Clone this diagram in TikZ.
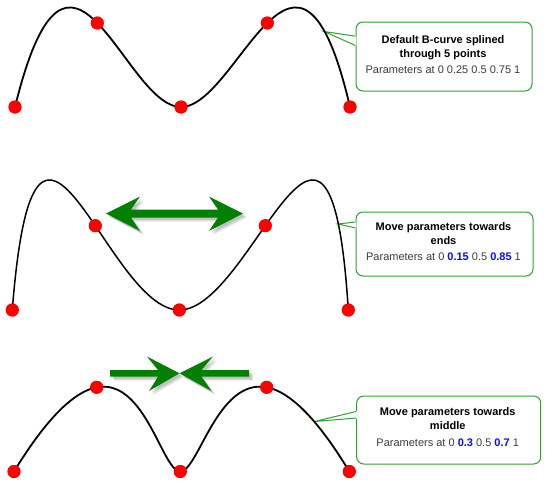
\documentclass[tikz,border=0pt]{standalone}
\usepackage{fontspec}
\setmainfont{Liberation Sans}
\usetikzlibrary{calc}
\definecolor{arrgreen}{RGB}{0,128,0}
\definecolor{boxgreen}{RGB}{50,160,50}
\definecolor{txtgray}{RGB}{60,60,60}
\definecolor{numblue}{RGB}{10,10,255}
\begin{document}
\begin{tikzpicture}[x=1pt,y=-1pt,
  dot/.style={circle, fill=red, inner sep=0pt, minimum size=13pt},
  curveline/.style={line width=1.8pt, black},
  callbox/.style={draw=boxgreen, line width=1pt, rounded corners=7pt, fill=white, inner sep=0pt},
  pointer/.style={draw=boxgreen, line width=1pt},
  calltext/.style={align=center, font=\fontsize{11}{14}\selectfont, text=txtgray},
  arrout/.pic={\path[pic actions] (106,213.5) -- (140,196.5) -- (131,209.5) -- (218,209.5) -- (209,196.5) -- (243,213.5) -- (209,231) -- (218,217.5) -- (131,217.5) -- (140,231) -- cycle;},
  arrin/.pic={\path[pic actions] (110,370) -- (158,370) -- (147,356.5) -- (179.5,373.3) -- (149,391) -- (158,376.7) -- (110,376.7) -- cycle;
              \path[pic actions] (249,370) -- (201.5,370) -- (213,356.5) -- (179.5,373.3) -- (211.5,391) -- (201.5,376.7) -- (249,376.7) -- cycle;}
]
\useasboundingbox (0,0) rectangle (558,493);

% ---------- callouts ----------
\node[callbox, minimum width=176pt, minimum height=69pt] (b1) at (444,56.5) {};
\coordinate (t1) at (324,31.5);
\fill[white] ($(b1.north west)+(0.8,14.2)$) -- (t1) -- ($(b1.north west)+(0.8,24.5)$) -- cycle;
\draw[pointer] ($(b1.north west)+(0,14.7)$) -- (t1) -- ($(b1.north west)+(0,24)$);
\node[calltext] (l1) at (443,54.7) {\textbf{\color{black}Default B-curve splined}\\\textbf{\color{black}through 5 points}\\[2.7pt]Parameters at 0 0.25 0.5 0.75 1};

\node[callbox, minimum width=177pt, minimum height=64pt] (b2) at (444.5,244) {};
\coordinate (t2) at (338,224);
\fill[white] ($(b2.north west)+(0.8,10)$) -- (t2) -- ($(b2.north west)+(0.8,17)$) -- cycle;
\draw[pointer] ($(b2.north west)+(0,10.5)$) -- (t2) -- ($(b2.north west)+(0,16.5)$);
\node[calltext] (l2) at (443.5,241.7) {\textbf{\color{black}Move parameters towards}\\\textbf{\color{black}ends}\\[2.7pt]Parameters at 0 \textbf{\color{numblue}0.15} 0.5 \textbf{\color{numblue}0.85} 1};

\node[callbox, minimum width=184pt, minimum height=68pt] (b3) at (448.7,430) {};
\coordinate (t3) at (314.5,421.5);
\fill[white] ($(b3.north west)+(0.8,15.5)$) -- (t3) -- ($(b3.north west)+(0.8,23)$) -- cycle;
\draw[pointer] ($(b3.north west)+(0,16)$) -- (t3) -- ($(b3.north west)+(0,22.5)$);
\node[calltext] (l3) at (447.7,427.2) {\textbf{\color{black}Move parameters towards}\\\textbf{\color{black}middle}\\[2.7pt]Parameters at 0 \textbf{\color{numblue}0.3} 0.5 \textbf{\color{numblue}0.7} 1};

% ---------- big green arrows with soft shadow ----------
\foreach \d in {2,3,4} {
  \pic[fill=black, opacity=0.09] at (\d,\d) {arrout};
  \pic[fill=black, opacity=0.09] at (\d,\d) {arrin};
}
\pic[fill=arrgreen] at (0,0) {arrout};
\pic[fill=arrgreen] at (0,0) {arrin};

% ---------- panel 1 ----------
\node[dot] (p10) at (15,107) {};
\node[dot] (p11) at (97.3,23) {};
\node[dot] (p12) at (181,107) {};
\node[dot] (p13) at (267.3,23) {};
\node[dot] (p14) at (350,107) {};
\draw[curveline] (p10.center) .. controls (70.08,-117) and (124.06,107) .. (p12.center)
                 .. controls (237.95,107) and (297.86,-117) .. (p14.center);

% ---------- panel 2 ----------
\node[dot] (p20) at (12.3,310) {};
\node[dot] (p21) at (95.3,225.7) {};
\node[dot] (p22) at (179.3,310) {};
\node[dot] (p23) at (265.3,225.7) {};
\node[dot] (p24) at (348.3,310) {};
\draw[curveline, line width=1.5pt] (p20.center) .. controls (35.23,17.29) and (105.64,310) .. (p22.center)
                 .. controls (252.96,310) and (329.87,17.29) .. (p24.center);

% ---------- panel 3 ----------
\node[dot] (p30) at (14,471.5) {};
\node[dot] (p31) at (96.7,387.3) {};
\node[dot] (p32) at (180.3,471.5) {};
\node[dot] (p33) at (266.7,387.3) {};
\node[dot] (p34) at (349.3,471.5) {};
\draw[curveline] (p30.center) .. controls (131.08,280.58) and (154.63,471.5) .. (p32.center)
                 .. controls (205.97,471.5) and (233.77,280.58) .. (p34.center);

% dots on top of curves
\foreach \n in {p10,p11,p12,p13,p14,p20,p21,p22,p23,p24,p30,p31,p32,p33,p34}
  \fill[red] (\n.center) circle (6.5pt);
\end{tikzpicture}
\end{document}
